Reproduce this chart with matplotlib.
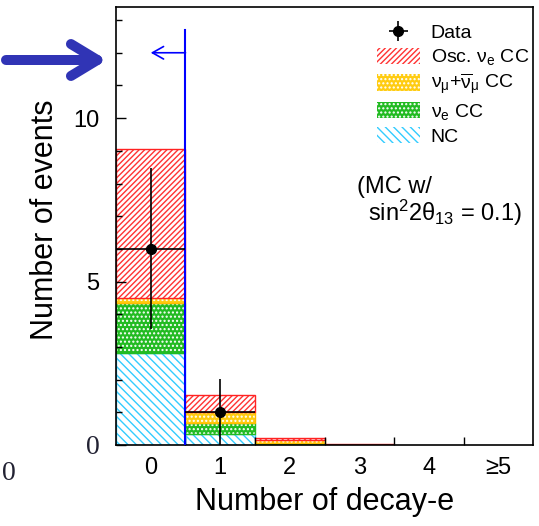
import numpy as np
import matplotlib
matplotlib.use("Agg")
import matplotlib.pyplot as plt
from matplotlib.patches import Rectangle, FancyArrowPatch

plt.rcParams['font.family'] = ['Liberation Sans', 'DejaVu Sans']
plt.rcParams['mathtext.fontset'] = 'custom'
plt.rcParams['mathtext.rm'] = 'Liberation Sans'
plt.rcParams['mathtext.it'] = 'Liberation Sans:italic'
plt.rcParams['mathtext.bf'] = 'Liberation Sans:bold'
plt.rcParams['mathtext.default'] = 'regular'
plt.rcParams['hatch.linewidth'] = 1.0

# bins: number of decay electrons
bins = np.arange(6)
bin_labels = ['0', '1', '2', '3', '4', '≥5']

# stacked MC (sin^2 2theta13 = 0.1)
mc_nc   = np.array([2.80, 0.34, 0.02, 0.00, 0.0, 0.0])
mc_nue  = np.array([1.55, 0.33, 0.05, 0.00, 0.0, 0.0])
mc_numu = np.array([0.15, 0.33, 0.08, 0.00, 0.0, 0.0])
mc_osc  = np.array([4.55, 0.53, 0.06, 0.03, 0.0, 0.0])

# data
data_x = np.array([0, 1])
data_y = np.array([6.0, 1.0])
data_lo = np.array([2.45, 1.0])
data_hi = np.array([2.47, 1.03])

cut_x = 0.5
cut_top = 12.7
cut_arrow_y = 12.0

styles = [
    # (values, label, face, hatch color, hatch)
    (mc_nc,   'NC',                                  'white',   '#33CCFF', '\\\\\\\\'),
    (mc_nue,  r'$\nu_e$ CC',                         '#22BB22', 'white',   '....'),
    (mc_numu, r'$\nu_\mu$+$\overline{\nu}_\mu$ CC',   '#FFCC11', 'white',   '....'),
    (mc_osc,  r'Osc. $\nu_e$ CC',                    'white',   '#FF3333', '//////'),
]
outline = {'NC': '#33CCFF', r'$\nu_e$ CC': '#22BB22',
           r'$\nu_\mu$+$\overline{\nu}_\mu$ CC': '#FFBB00', r'Osc. $\nu_e$ CC': '#FF2222'}

fig = plt.figure(figsize=(5.39, 5.26), dpi=100)
ax = fig.add_axes([0.2152, 0.154, 0.7737, 0.8327])

bottom = np.zeros(len(bins))
handles = {}
for vals, label, face, hcol, hatch in styles:
    m = vals > 0
    ax.bar(bins[m], vals[m], width=1.0, bottom=bottom[m], color=face,
           edgecolor=hcol, hatch=hatch, linewidth=0)
    ax.bar(bins[m], vals[m], width=1.0, bottom=bottom[m], fill=False,
           edgecolor=outline[label], linewidth=1.0)
    handles[label] = Rectangle((0, 0), 1, 1, facecolor=face, edgecolor=hcol,
                               hatch=hatch, linewidth=0)
    bottom = bottom + vals

eb = ax.errorbar(data_x, data_y, xerr=0.5, yerr=[data_lo, data_hi], fmt='o',
                 color='black', ms=7, elinewidth=1.2, capsize=0, zorder=5)

# cut line and arrow
ax.plot([cut_x, cut_x], [0, cut_top], color='#0000FF', lw=1.5, zorder=4)
ax.add_patch(FancyArrowPatch((cut_x, cut_arrow_y), (cut_x - 0.5, cut_arrow_y),
                             arrowstyle='->,head_length=8,head_width=4.5',
                             mutation_scale=1, color='#0000FF', lw=1.2,
                             shrinkA=0, shrinkB=0, zorder=4))

ax.set_xlim(-0.5, 5.5)
ax.set_ylim(0, 13.4)
ax.set_xticks(bins, bin_labels)
ax.set_xticks(bins[:-1] + 0.5, minor=True)
ax.set_yticks([0, 5, 10], ['0', '5', '10'])
ax.set_yticks(np.arange(0, 14), minor=True)
ax.tick_params(axis='x', which='major', length=0, labelsize=17, pad=9)
ax.tick_params(axis='x', which='minor', direction='in', length=6, width=1)
ax.tick_params(axis='y', which='major', direction='in', length=7, width=1,
               labelsize=17, pad=12)
ax.tick_params(axis='y', which='minor', direction='in', length=4, width=1)
ax.yaxis.get_major_ticks()[0].label1.set_fontfamily('Liberation Serif')
ax.yaxis.get_major_ticks()[0].label1.set_fontsize(20)
ax.yaxis.get_major_ticks()[0].label1.set_color('#222233')
for s in ax.spines.values():
    s.set_linewidth(1.2)

ax.set_xlabel('Number of decay-e', fontsize=22, va='center')
ax.xaxis.set_label_coords(0.501, -0.13)
ax.set_ylabel('Number of events', fontsize=22, va='center')
ax.yaxis.set_label_coords(-0.17, 0.514)

order = [r'Osc. $\nu_e$ CC', r'$\nu_\mu$+$\overline{\nu}_\mu$ CC', r'$\nu_e$ CC', 'NC']
ax.legend([eb] + [handles[k] for k in order], ['Data'] + order,
          loc='upper left', bbox_to_anchor=(0.626, 0.962), frameon=False,
          fontsize=14, borderpad=0, borderaxespad=0, handlelength=2.2,
          handleheight=0.9, handletextpad=0.55, labelspacing=0.25)

ax.text(0.578, 0.589, '(MC w/', transform=ax.transAxes, fontsize=17, va='center')
ax.text(0.604, 0.530, r'sin$^2$2$\theta_{13}$ = 0.1)', transform=ax.transAxes,
        fontsize=17, va='center')

# big pointer arrow outside the axes
fig.add_artist(FancyArrowPatch((6 / 539, 1 - 60 / 526), (107 / 539, 1 - 60 / 526),
                               transform=fig.transFigure,
                               arrowstyle='->,head_length=19,head_width=11.5',
                               mutation_scale=1, color='#3034B5', lw=7.2,
                               capstyle='round', joinstyle='round',
                               shrinkA=0, shrinkB=0))
fig.text(9 / 539, 1 - 474 / 526, '0', ha='center', va='center',
         family='Liberation Serif', fontsize=20, color='#222233')

fig.savefig('out.png', dpi=100)
